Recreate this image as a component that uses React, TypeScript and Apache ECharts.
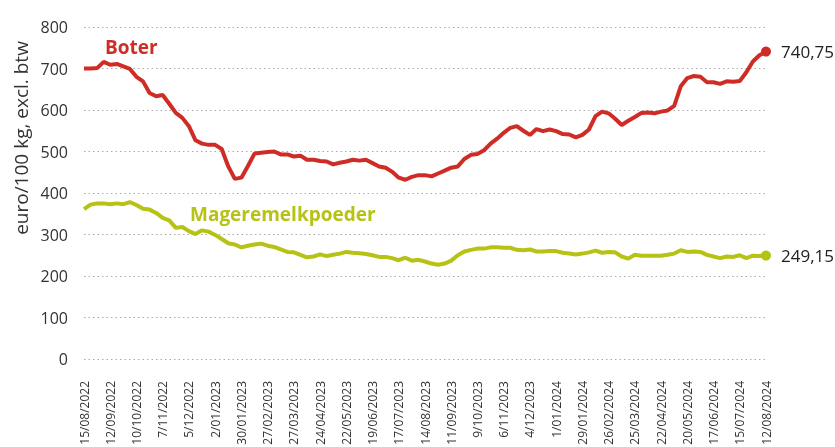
import React, { useEffect, useRef } from "react";
import * as echarts from "echarts";

const START_DATE = "2022-08-15";
const WEEKS = 105;

const boter = [
  700, 700, 701, 716, 709, 711, 705, 699, 680, 669, 641, 633, 636, 615, 593, 581, 561, 527, 519, 516,
  516, 506, 464, 434, 437, 465, 495, 497, 499, 500, 493, 493, 488, 490, 480, 480, 477, 476, 469, 473,
  476, 480, 478, 480, 472, 464, 461, 451, 437, 432, 439, 443, 443, 440, 447, 454, 461, 464, 482, 492,
  494, 503, 519, 531, 545, 557, 561, 550, 540, 554, 549, 553, 549, 542, 541, 534, 540, 553, 585, 596,
  592, 579, 564, 574, 583, 593, 594, 592, 596, 599, 610, 657, 677, 682, 680, 667, 667, 663, 669, 668,
  670, 691, 717, 732, 740.75,
];

const mageremelkpoeder = [
  361, 372, 375, 375, 373, 375, 373, 378, 371, 362, 360, 352, 340, 334, 316, 318, 308, 301, 310, 307,
  299, 289, 279, 276, 269, 273, 276, 278, 273, 270, 264, 258, 257, 251, 245, 247, 252, 248, 251, 254,
  258, 256, 255, 253, 250, 246, 246, 243, 238, 244, 237, 239, 235, 230, 227, 230, 237, 250, 259, 263,
  266, 266, 269, 269, 268, 268, 263, 262, 264, 259, 259, 260, 260, 256, 254, 252, 254, 257, 261, 256,
  258, 257, 247, 242, 251, 249, 249, 249, 249, 251, 254, 262, 258, 259, 258, 251, 247, 243, 247, 246,
  250, 243, 249, 248, 249.15,
];

const seriesNames = ["Boter", "Mageremelkpoeder"];
const endLabels = ["740,75", "249,15"];
const yTicks = { min: 0, max: 800, interval: 100 };
const yAxisTitle = "euro/100 kg, excl. btw";

function buildCategories(): string[] {
  const out: string[] = [];
  const base = new Date(START_DATE + "T00:00:00Z").getTime();
  for (let i = 0; i < WEEKS; i++) {
    const d = new Date(base + i * 7 * 86400000);
    const day = d.getUTCDate();
    const m = String(d.getUTCMonth() + 1).padStart(2, "0");
    out.push(`${day}/${m}/${d.getUTCFullYear()}`);
  }
  return out;
}

const RED = "#d02c26";
const GREEN = "#b6c214";
const FONT = "'Open Sans', 'Noto Sans', sans-serif";

function withEnd(values: number[], color: string, label: string) {
  return values.map((v, i) =>
    i === values.length - 1
      ? {
          value: v,
          symbol: "circle",
          symbolSize: 10,
          itemStyle: { color },
          label: {
            show: true,
            position: "right",
            distance: 10,
            formatter: label,
            fontSize: 17,
            color: "#222",
            fontFamily: FONT,
          },
        }
      : { value: v }
  );
}

export default function App() {
  const ref = useRef<HTMLDivElement>(null);
  useEffect(() => {
    if (!ref.current) return;
    const chart = echarts.init(ref.current, undefined, { renderer: "svg" });
    const categories = buildCategories();
    chart.setOption({
      animation: false,
      textStyle: { fontFamily: FONT },
      grid: {
        left: 84,
        right: 69,
        top: 27,
        bottom: 88,
        containLabel: false,
        outerBoundsMode: "none",
      },
      xAxis: {
        type: "category",
        boundaryGap: false,
        data: categories,
        axisLine: { show: false },
        axisTick: { show: false },
        axisLabel: {
          rotate: 90,
          interval: 3,
          fontSize: 12,
          color: "#333",
          margin: 22,
          fontFamily: FONT,
        },
        splitLine: { show: false },
      },
      yAxis: {
        type: "value",
        min: yTicks.min,
        max: yTicks.max,
        interval: yTicks.interval,
        axisLine: { show: false },
        axisTick: { show: false },
        axisLabel: { fontSize: 16, color: "#333", margin: 16, fontFamily: FONT },
        splitLine: { lineStyle: { type: [1.5, 3], color: "#aaa", width: 1 } },
      },
      graphic: [
        {
          type: "text",
          x: 21,
          y: 138,
          rotation: Math.PI / 2,
          style: {
            text: yAxisTitle,
            fontSize: 19,
            fill: "#333",
            fontFamily: FONT,
            align: "center",
            verticalAlign: "middle",
          },
        },
        {
          type: "text",
          x: 105,
          y: 47,
          style: {
            text: seriesNames[0],
            fontSize: 19,
            fontWeight: "bold",
            fill: RED,
            fontFamily: FONT,
            align: "left",
            verticalAlign: "middle",
          },
        },
        {
          type: "text",
          x: 190,
          y: 214,
          style: {
            text: seriesNames[1],
            fontSize: 19,
            fontWeight: "bold",
            fill: GREEN,
            fontFamily: FONT,
            align: "left",
            verticalAlign: "middle",
          },
        },
      ],
      series: [
        {
          name: seriesNames[0],
          type: "line",
          data: withEnd(boter, RED, endLabels[0]),
          symbol: "none",
          showSymbol: true,
          showAllSymbol: true,
          lineStyle: { color: RED, width: 4 },
          itemStyle: { color: RED },
          z: 3,
        },
        {
          name: seriesNames[1],
          type: "line",
          data: withEnd(mageremelkpoeder, GREEN, endLabels[1]),
          symbol: "none",
          showSymbol: true,
          showAllSymbol: true,
          lineStyle: { color: GREEN, width: 4 },
          itemStyle: { color: GREEN },
          z: 2,
        },
      ],
    });
    return () => chart.dispose();
  }, []);
  return (
    <div
      ref={ref}
      style={{ position: "fixed", left: 0, top: 0, width: 835, height: 447 }}
    />
  );
}
